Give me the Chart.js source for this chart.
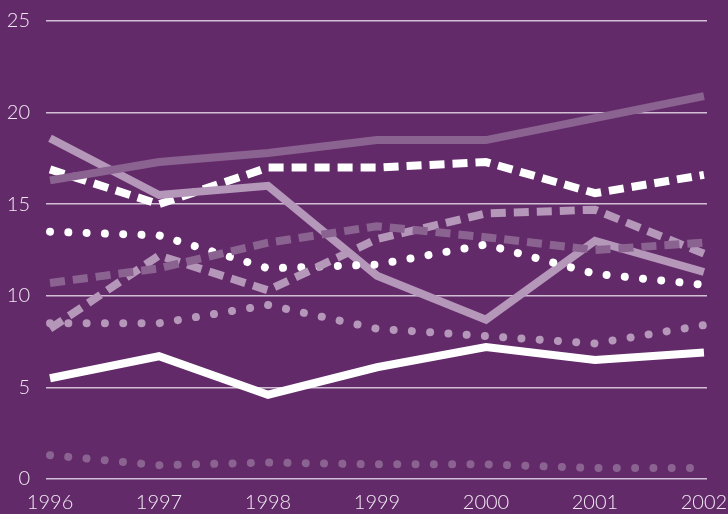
<!DOCTYPE html>
<html>
<head>
<meta charset="utf-8">
<script src="https://cdn.jsdelivr.net/npm/chart.js@4/dist/chart.umd.min.js"></script>
<style>
  html, body { margin: 0; padding: 0; background: #632a6a; }
  #wrap { width: 728px; height: 514px; }
</style>
</head>
<body>
<div id="wrap"><canvas id="chart"></canvas></div>
<script>
const years = [1996, 1997, 1998, 1999, 2000, 2001, 2002];
const yTicks = [0, 5, 10, 15, 20, 25];

const solidMid   = [16.3, 17.3, 17.8, 18.5, 18.5, 19.7, 20.9];
const solidLight = [18.6, 15.5, 16.0, 11.1, 8.7, 13.0, 11.3];
const dashWhite  = [16.9, 15.0, 17.0, 17.0, 17.3, 15.6, 16.6];
const dashLight  = [8.2, 12.2, 10.3, 13.1, 14.5, 14.7, 12.3];
const dashMid    = [10.7, 11.5, 12.9, 13.8, 13.2, 12.5, 12.9];
const dotWhite   = [13.5, 13.3, 11.5, 11.7, 12.8, 11.2, 10.6];
const dotLight   = [8.5, 8.5, 9.5, 8.2, 7.8, 7.4, 8.4];
const solidWhite = [5.5, 6.7, 4.6, 6.1, 7.2, 6.5, 6.9];
const dotMid     = [1.3, 0.75, 0.9, 0.8, 0.8, 0.6, 0.6];

const WHITE = '#ffffff';
const LIGHT = '#b497b9';
const MID = '#8b6391';

const DASH = [15, 8];
const DOT = [0.001, 18.3];

function series(values, color, dash) {
  const dotted = dash === DOT;
  return {
    data: values.map((v, i) => ({ x: years[i], y: v })),
    borderColor: color,
    borderWidth: 8,
    borderDash: dash || [],
    borderCapStyle: dotted ? 'round' : 'butt',
    pointRadius: 0,
    tension: 0,
    fill: false
  };
}

new Chart(document.getElementById('chart'), {
  type: 'line',
  data: {
    datasets: [
      series(dotMid, MID, DOT),
      series(dotLight, LIGHT, DOT),
      series(dashMid, MID, DASH),
      series(dashLight, LIGHT, DASH),
      series(dotWhite, WHITE, DOT),
      series(solidMid, MID),
      series(solidLight, LIGHT),
      series(dashWhite, WHITE, DASH),
      series(solidWhite, WHITE)
    ]
  },
  options: {
    responsive: true,
    maintainAspectRatio: false,
    animation: false,
    layout: { padding: { top: 21, right: 21, left: 0, bottom: 0 } },
    plugins: { legend: { display: false }, tooltip: { enabled: false } },
    scales: {
      x: {
        type: 'linear',
        min: 1995.963,
        max: 2002.028,
        afterBuildTicks: (scale) => { scale.ticks = years.map(v => ({ value: v })); },
        afterFit: (scale) => {
          scale.height = 35;
          scale.paddingLeft = 0;
          scale.paddingRight = 0;
        },
        grid: { display: false, drawTicks: false },
        border: { display: false },
        ticks: {
          color: '#f1e9f2',
          font: { family: 'Lato', size: 20, weight: 300 },
          padding: 12,
          maxRotation: 0,
          autoSkip: false,
          callback: (v) => String(v)
        }
      },
      y: {
        min: 0,
        max: 25,
        afterBuildTicks: (scale) => { scale.ticks = yTicks.map(v => ({ value: v })); },
        afterFit: (scale) => {
          scale.width = 46;
          scale.paddingTop = 0;
          scale.paddingBottom = 0;
        },
        grid: { color: '#d2bfd5', lineWidth: 1.5, drawTicks: false },
        border: { display: false },
        ticks: {
          color: '#f1e9f2',
          font: { family: 'Lato', size: 20, weight: 300 },
          padding: 16
        }
      }
    }
  }
});
</script>
</body>
</html>
